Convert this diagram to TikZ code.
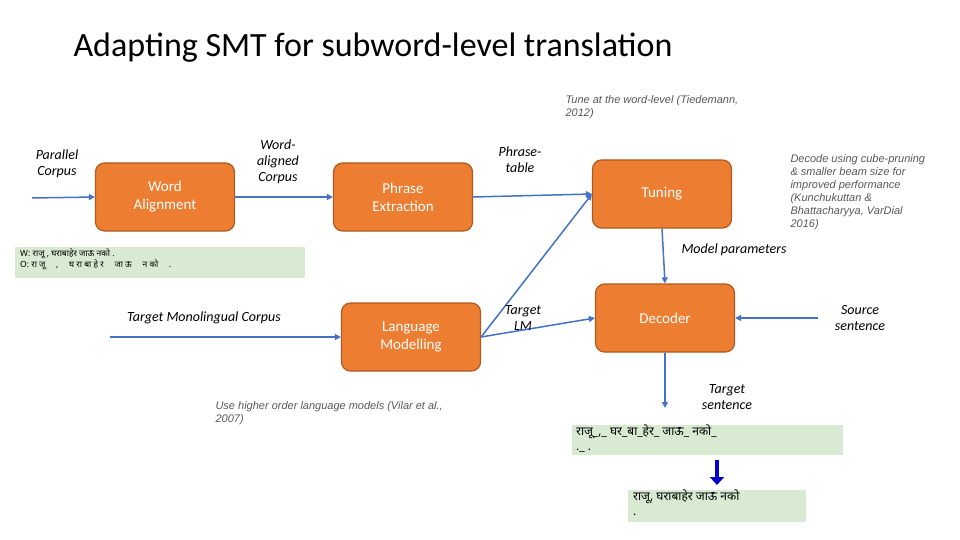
\documentclass[tikz,border=0pt]{standalone}
\usepackage{fontspec}
\setmainfont{Carlito}
\newfontfamily\arialf{Liberation Sans}
\newfontfamily\devf[Script=Devanagari]{Noto Sans}
\usetikzlibrary{arrows.meta}
\definecolor{boxor}{HTML}{ED7D31}
\definecolor{boxbd}{HTML}{AE5A21}
\definecolor{lnb}{HTML}{4472C4}
\definecolor{grn}{HTML}{D9EAD3}
\definecolor{gtx}{HTML}{595959}
\tikzset{
 proc/.style={draw=boxbd, line width=1.2pt, fill=boxor, rounded corners=9pt, minimum width=139pt, minimum height=68pt, text=white, align=center, font=\fontsize{15}{18}\selectfont},
 conn/.style={draw=lnb, line width=1.5pt, -{Triangle[length=6pt,width=6pt]}},
 lab/.style={align=center, font=\itshape\fontsize{14}{16}\selectfont},
 note/.style={align=left, text=gtx, font=\arialf\itshape\fontsize{11}{13}\selectfont},
 gbox/.style={fill=grn, anchor=north west, inner sep=0pt}
}
\begin{document}
\begin{tikzpicture}[x=1pt,y=-1pt]
\useasboundingbox (0,0) rectangle (960,540);
\fill[white] (0,0) rectangle (960,540);
\node[anchor=west, font=\fontsize{34}{40}\selectfont] (title) at (70,48) {Adapting SMT for subword-level translation};
\node[proc] (wa) at (165,197) {Word\\Alignment};
\node[proc] (pe) at (403,197) {Phrase\\Extraction};
\node[proc] (tu) at (662,194) {Tuning};
\node[proc] (lm) at (411,337) {Language\\Modelling};
\node[proc] (de) at (665,318) {Decoder};
\coordinate (pc) at (32,198);
\coordinate (tm) at (110,337);
\coordinate (ss) at (818,318);
\coordinate (ts) at (665,408);
\draw[conn] (pc) -- (wa.west);
\draw[conn] (wa.east) -- (pe.west);
\draw[conn] (pe.east) -- (tu.west);
\draw[conn] (lm.east) -- (tu.west);
\draw[conn] (lm.east) -- (de.west);
\draw[conn] (tu.south) -- (de.north);
\draw[conn] (ss) -- (de.east);
\draw[conn] (de.south) -- (ts);
\draw[conn] (tm) -- (lm.west);
\node[lab] (l1) at (57,164) {Parallel\\Corpus};
\node[lab] (l2) at (278,162) {Word-\\aligned\\Corpus};
\node[lab] (l3) at (520,160) {Phrase-\\table};
\node[lab] (l4) at (734,250) {Model parameters};
\node[lab] (l5) at (204,318) {Target Monolingual Corpus};
\node[lab] (l6) at (523,318) {Target\\LM};
\node[lab] (l7) at (860,318) {Source\\sentence};
\node[lab] (l8) at (727,397) {Target\\sentence};
\node[note, anchor=north west] (n1) at (562,92) {Tune at the word-level (Tiedemann,\\2012)};
\node[note, anchor=north west] (n2) at (787,151) {Decode using cube-pruning\\\& smaller beam size for\\improved performance\\(Kunchukuttan \&\\Bhattacharyya, VarDial\\2016)};
\node[note, anchor=north west] (n3) at (212,398) {Use higher order language models (Vilar et al.,\\2007)};
\node[gbox, minimum width=290pt, minimum height=31pt] (g1) at (15,247) {};
\node[anchor=north west, align=left, font=\devf\fontsize{8.5}{11}\selectfont, inner sep=0pt] (g1t) at (20,249) {W: राजू , घराबाहेर जाऊ नको .\\O: रा जू \quad , \quad घ रा बा हे र \quad जा ऊ \quad न को \quad .};
\node[gbox, minimum width=271pt, minimum height=30pt] (g2) at (572,425) {};
\node[anchor=north west, align=left, font=\devf\fontsize{12}{15}\selectfont, inner sep=0pt] (g2t) at (576,425) {राजू\_,\_ घर\_बा\_हेर\_ जाऊ\_ नको\_\\ .\_ .};
\node[gbox, minimum width=178pt, minimum height=32pt] (g3) at (628,490) {};
\node[anchor=north west, align=left, font=\devf\fontsize{12}{15}\selectfont, inner sep=0pt] (g3t) at (633,490) {राजू, घराबाहेर जाऊ नको\\ .};
\coordinate (ba) at (717,460);
\coordinate (bb) at (717,485);
\draw[line width=4pt, draw=blue!80!black, -{Triangle[length=8pt,width=14pt]}] (ba) -- (bb);
\end{tikzpicture}
\end{document}
